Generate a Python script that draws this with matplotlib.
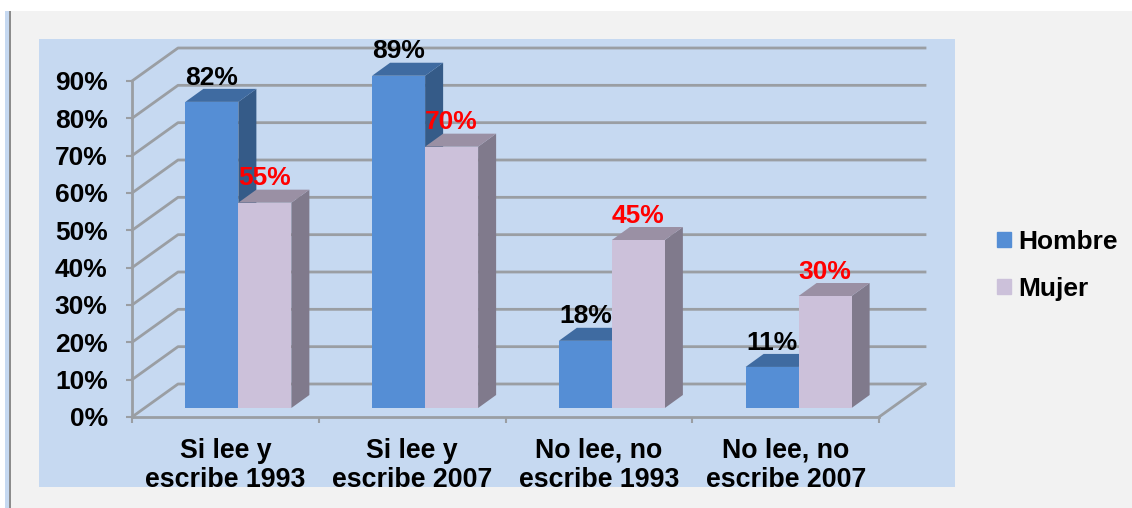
"""Alfabetismo por sexo: barras con falso 3D dibujadas sobre ejes 2D."""
import matplotlib

matplotlib.use("Agg")
import matplotlib.pyplot as plt
from matplotlib.patches import Patch, Rectangle

categories = ["Si lee y\nescribe 1993", "Si lee y\nescribe 2007",
              "No lee, no\nescribe 1993", "No lee, no\nescribe 2007"]
hombre = [82, 89, 18, 11]
mujer = [55, 70, 45, 30]
y_ticks = [0, 10, 20, 30, 40, 50, 60, 70, 80, 90]
y_labels = ["0%", "10%", "20%", "30%", "40%", "50%", "60%", "70%", "80%", "90%"]

W, H = 1132, 508
AX_L, AX_R, AX_T, AX_B = 132, 879, 81, 417  # px
PX_X = 4 / (AX_R - AX_L)  # data units per px
PX_Y = 90 / (AX_B - AX_T)
WALL_X, WALL_Y = 46 * PX_X, 33 * PX_Y  # depth of the floor
BAR_X, BAR_Y = 13 * PX_X, 9 * PX_Y  # bar front plane, from the axis plane
DEP_X, DEP_Y = 18 * PX_X, 13 * PX_Y  # bar depth
BAR_W = 53 * PX_X

GRID = "#9a9ea3"
BLUE = ("#558ed5", "#3f6ba1", "#355b88")
PINK = ("#ccc1da", "#9a90a4", "#807a8c")

plt.rcParams["font.family"] = ["Liberation Sans", "DejaVu Sans"]
plt.rcParams["font.size"] = 19
plt.rcParams["font.weight"] = "bold"

fig = plt.figure(figsize=(W / 100, H / 100), dpi=100, facecolor="white")


def px_rect(x0, y0, x1, y1, color):
    fig.add_artist(Rectangle((x0 / W, 1 - y1 / H), (x1 - x0) / W, (y1 - y0) / H,
                             transform=fig.transFigure, color=color, lw=0, zorder=-1))


px_rect(5, 11, W, H, "#f2f2f2")
px_rect(5, 11, 9, H, "#c6d9f1")
px_rect(9, 11, 11, H, "#8c8c8c")
px_rect(39, 39, 955, 487, "#c6d9f1")

ax = fig.add_axes([AX_L / W, 1 - AX_B / H, (AX_R - AX_L) / W, (AX_B - AX_T) / H])
ax.patch.set_alpha(0)
ax.set_xlim(-0.5, 3.5)
ax.set_ylim(0, 90)
for side in ("top", "right"):
    ax.spines[side].set_visible(False)
for side in ("left", "bottom"):
    ax.spines[side].set_color(GRID)
    ax.spines[side].set_linewidth(2)

ax.set_yticks(y_ticks, y_labels, va="center_baseline")
ax.set_xticks(range(len(categories)), categories, linespacing=1.18, fontsize=19.3)
ax.set_xticks([i - 0.5 for i in range(len(categories) + 1)], minor=True)
ax.tick_params(axis="y", length=4.5, width=1.5, color=GRID, pad=13)
ax.tick_params(axis="x", which="major", length=0, pad=15)
ax.tick_params(axis="x", which="minor", length=4.5, width=1.5, color=GRID)

# back wall and floor
for v in y_ticks:
    ax.plot([-0.5, -0.5 + WALL_X, 3.5 + WALL_X], [v, v + WALL_Y, v + WALL_Y],
            color=GRID, lw=2, clip_on=False, zorder=1)
ax.plot([3.5, 3.5 + WALL_X], [0, WALL_Y], color=GRID, lw=2, clip_on=False, zorder=1)


def bar3d(x0, value, colors, z):
    x1 = x0 + BAR_W
    y0, y1 = BAR_Y, BAR_Y + value
    ax.fill([x1, x1 + DEP_X, x1 + DEP_X, x1], [y0, y0 + DEP_Y, y1 + DEP_Y, y1],
            color=colors[2], lw=0, clip_on=False, zorder=z)
    ax.fill([x0, x0 + DEP_X, x1 + DEP_X, x1], [y1, y1 + DEP_Y, y1 + DEP_Y, y1],
            color=colors[1], lw=0, clip_on=False, zorder=z)
    ax.bar(x0, value, BAR_W, bottom=y0, align="edge", color=colors[0], lw=0,
           clip_on=False, zorder=z)


def value_label(x0, value, color):
    ax.annotate(f"{value}%", (x0 + BAR_W / 2, BAR_Y + value), xytext=(0, 17.5),
                textcoords="offset points", ha="center", va="center", color=color,
                annotation_clip=False, zorder=10)


for i, (h, m) in enumerate(zip(hombre, mujer)):
    left = i + BAR_X - BAR_W
    z = 3 + 2 * i
    bar3d(left, h, BLUE, z)
    bar3d(left + BAR_W, m, PINK, z + 1)
    value_label(left, h, "black")
    value_label(left + BAR_W, m, "red")

fig.legend(handles=[Patch(color=BLUE[0], label="Hombre"), Patch(color=PINK[0], label="Mujer")],
           loc="upper left", bbox_to_anchor=(997 / W, 1 - 230 / H), frameon=False,
           handlelength=0.53, handleheight=0.53, handletextpad=0.27,
           labelspacing=0.86, borderpad=0, borderaxespad=0, fontsize=19)

fig.savefig("out.png", dpi=100, facecolor=fig.get_facecolor())
